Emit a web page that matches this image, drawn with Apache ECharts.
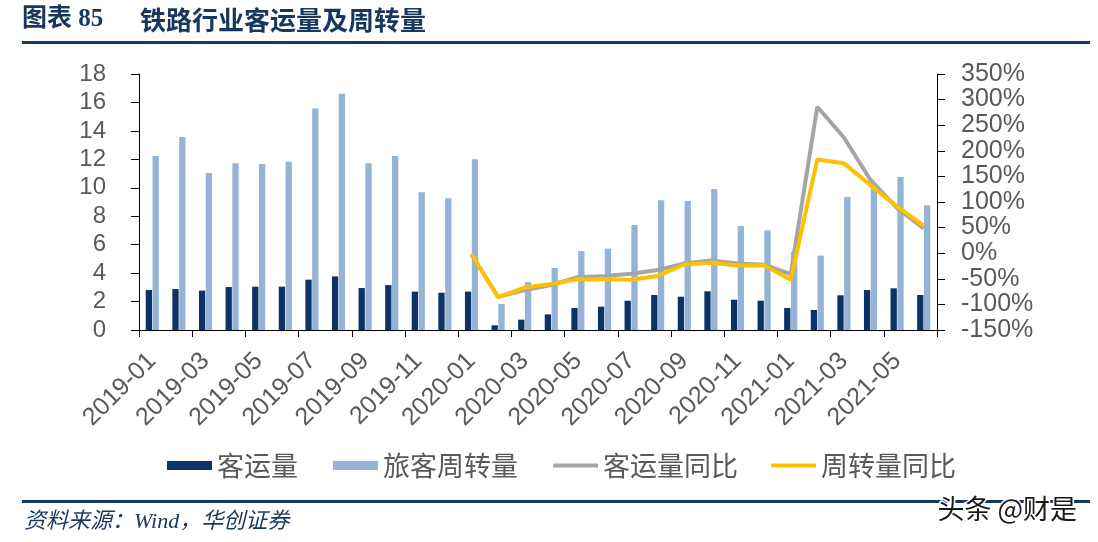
<!DOCTYPE html>
<html>
<head>
<meta charset="utf-8">
<script src="https://cdn.jsdelivr.net/npm/echarts@6/dist/echarts.min.js"></script>
<style>
html,body{margin:0;padding:0;background:#fff;}
#c{width:1098px;height:542px;}
</style>
</head>
<body>
<div id="c"></div>
<script>
const months = ['2019-01','2019-02','2019-03','2019-04','2019-05','2019-06','2019-07','2019-08','2019-09','2019-10','2019-11','2019-12',
'2020-01','2020-02','2020-03','2020-04','2020-05','2020-06','2020-07','2020-08','2020-09','2020-10','2020-11','2020-12',
'2021-01','2021-02','2021-03','2021-04','2021-05','2021-06'];
const passengers = [2.81,2.88,2.77,3.02,3.05,3.05,3.54,3.77,2.95,3.16,2.70,2.62,2.70,0.33,0.73,1.10,1.55,1.64,2.06,2.46,2.34,2.72,2.13,2.06,1.55,1.41,2.44,2.81,2.93,2.46];
const turnover = [12.23,13.57,11.04,11.72,11.67,11.83,15.58,16.62,11.72,12.23,9.68,9.26,12.0,1.83,3.37,4.36,5.55,5.72,7.38,9.12,9.07,9.91,7.31,7.01,5.5,5.23,9.35,10.0,10.76,8.77];
const passengersYoY = [null,null,null,null,null,null,null,null,null,null,null,null,
-3,-85,-72,-62,-47,-44.5,-40,-33,-20,-14,-20,-22.4,-41,286,226,143,88,48.6];
const turnoverYoY = [null,null,null,null,null,null,null,null,null,null,null,null,
-2,-86,-67,-60,-51,-51,-52,-44.5,-22,-18.5,-24,-23.7,-52,183,175.5,133,91,54];
const leftTicks = {min:0,max:18,interval:2};
const rightTicks = {min:-150,max:350,interval:50};

const chart = echarts.init(document.getElementById('c'));
const navy = '#17375e';
const labelFont = 'Liberation Sans, Arial, sans-serif';
chart.setOption({
  animation:false,
  backgroundColor:'#fff',
  grid:{left:139,right:161,top:74,bottom:212,containLabel:false},
  legend:[{
    data:['客运量','旅客周转量'],
    left:162, top:447,
    itemWidth:45, itemHeight:9, itemGap:35, icon:'rect',
    textStyle:{fontSize:27,color:'#595959',fontFamily:'Noto Sans CJK SC'}
  },{
    data:['客运量同比','周转量同比'],
    left:548, top:447,
    itemWidth:45, itemHeight:4, itemGap:33, icon:'rect',
    textStyle:{fontSize:27,color:'#595959',fontFamily:'Noto Sans CJK SC'}
  }],
  xAxis:{
    type:'category', data:months, boundaryGap:true,
    axisLine:{lineStyle:{color:'#000',width:1}},
    axisTick:{show:true,interval:1,length:7,lineStyle:{color:'#000'}},
    axisLabel:{interval:1,rotate:45,margin:27,fontSize:25,color:'#595959',fontFamily:labelFont}
  },
  yAxis:[{
    type:'value', min:leftTicks.min, max:leftTicks.max, interval:leftTicks.interval,
    splitLine:{show:false},
    axisLine:{show:true,lineStyle:{color:'#000'}},
    axisTick:{show:true,length:8,lineStyle:{color:'#000'}},
    axisLabel:{fontSize:24,color:'#595959',margin:33,fontFamily:labelFont,showMinLabel:true,showMaxLabel:true,hideOverlap:false}
  },{
    type:'value', min:rightTicks.min, max:rightTicks.max, interval:rightTicks.interval,
    splitLine:{show:false},
    axisLine:{show:true,lineStyle:{color:'#000'}},
    axisTick:{show:true,length:8,lineStyle:{color:'#000'}},
    axisLabel:{fontSize:25,color:'#595959',margin:24,fontFamily:labelFont,formatter:'{value}%',showMinLabel:true,showMaxLabel:true,hideOverlap:false}
  }],
  series:[
    {name:'客运量',type:'bar',data:passengers,barWidth:6.3,barGap:'8%',itemStyle:{color:'#0b3366'}},
    {name:'旅客周转量',type:'bar',data:turnover,barWidth:6.3,barGap:'8%',itemStyle:{color:'#95b3d7'}},
    {name:'客运量同比',type:'line',yAxisIndex:1,data:passengersYoY,symbol:'none',lineStyle:{color:'#a5a5a5',width:4},itemStyle:{color:'#a5a5a5'}},
    {name:'周转量同比',type:'line',yAxisIndex:1,data:turnoverYoY,symbol:'none',lineStyle:{color:'#ffc000',width:4},itemStyle:{color:'#ffc000'}}
  ],
  graphic:[
    {type:'text',left:22,top:7,style:{text:'图表 85',fontSize:25,fontWeight:'bold',fill:navy,fontFamily:'Liberation Serif, Noto Sans CJK SC'}},
    {type:'text',left:140,top:7,style:{text:'铁路行业客运量及周转量',fontSize:26,fontWeight:'bold',fill:navy,fontFamily:'Noto Sans CJK SC'}},
    {type:'rect',shape:{x:22,y:41,width:1068,height:3},style:{fill:navy}},
    {type:'rect',shape:{x:22,y:500,width:1068,height:3},style:{fill:navy}},
    {type:'text',left:24,top:511,style:{text:'资料来源：Wind，华创证券',fontSize:22,fontStyle:'italic',fill:navy,fontFamily:'Liberation Serif, Noto Sans CJK SC'}},
    {type:'text',left:936,top:494,style:{text:'头条 @财是',fontSize:27,fill:'#1a1a1a',stroke:'#fff',lineWidth:3,fontFamily:'Noto Sans CJK SC'}}
  ]
});
</script>
</body>
</html>
